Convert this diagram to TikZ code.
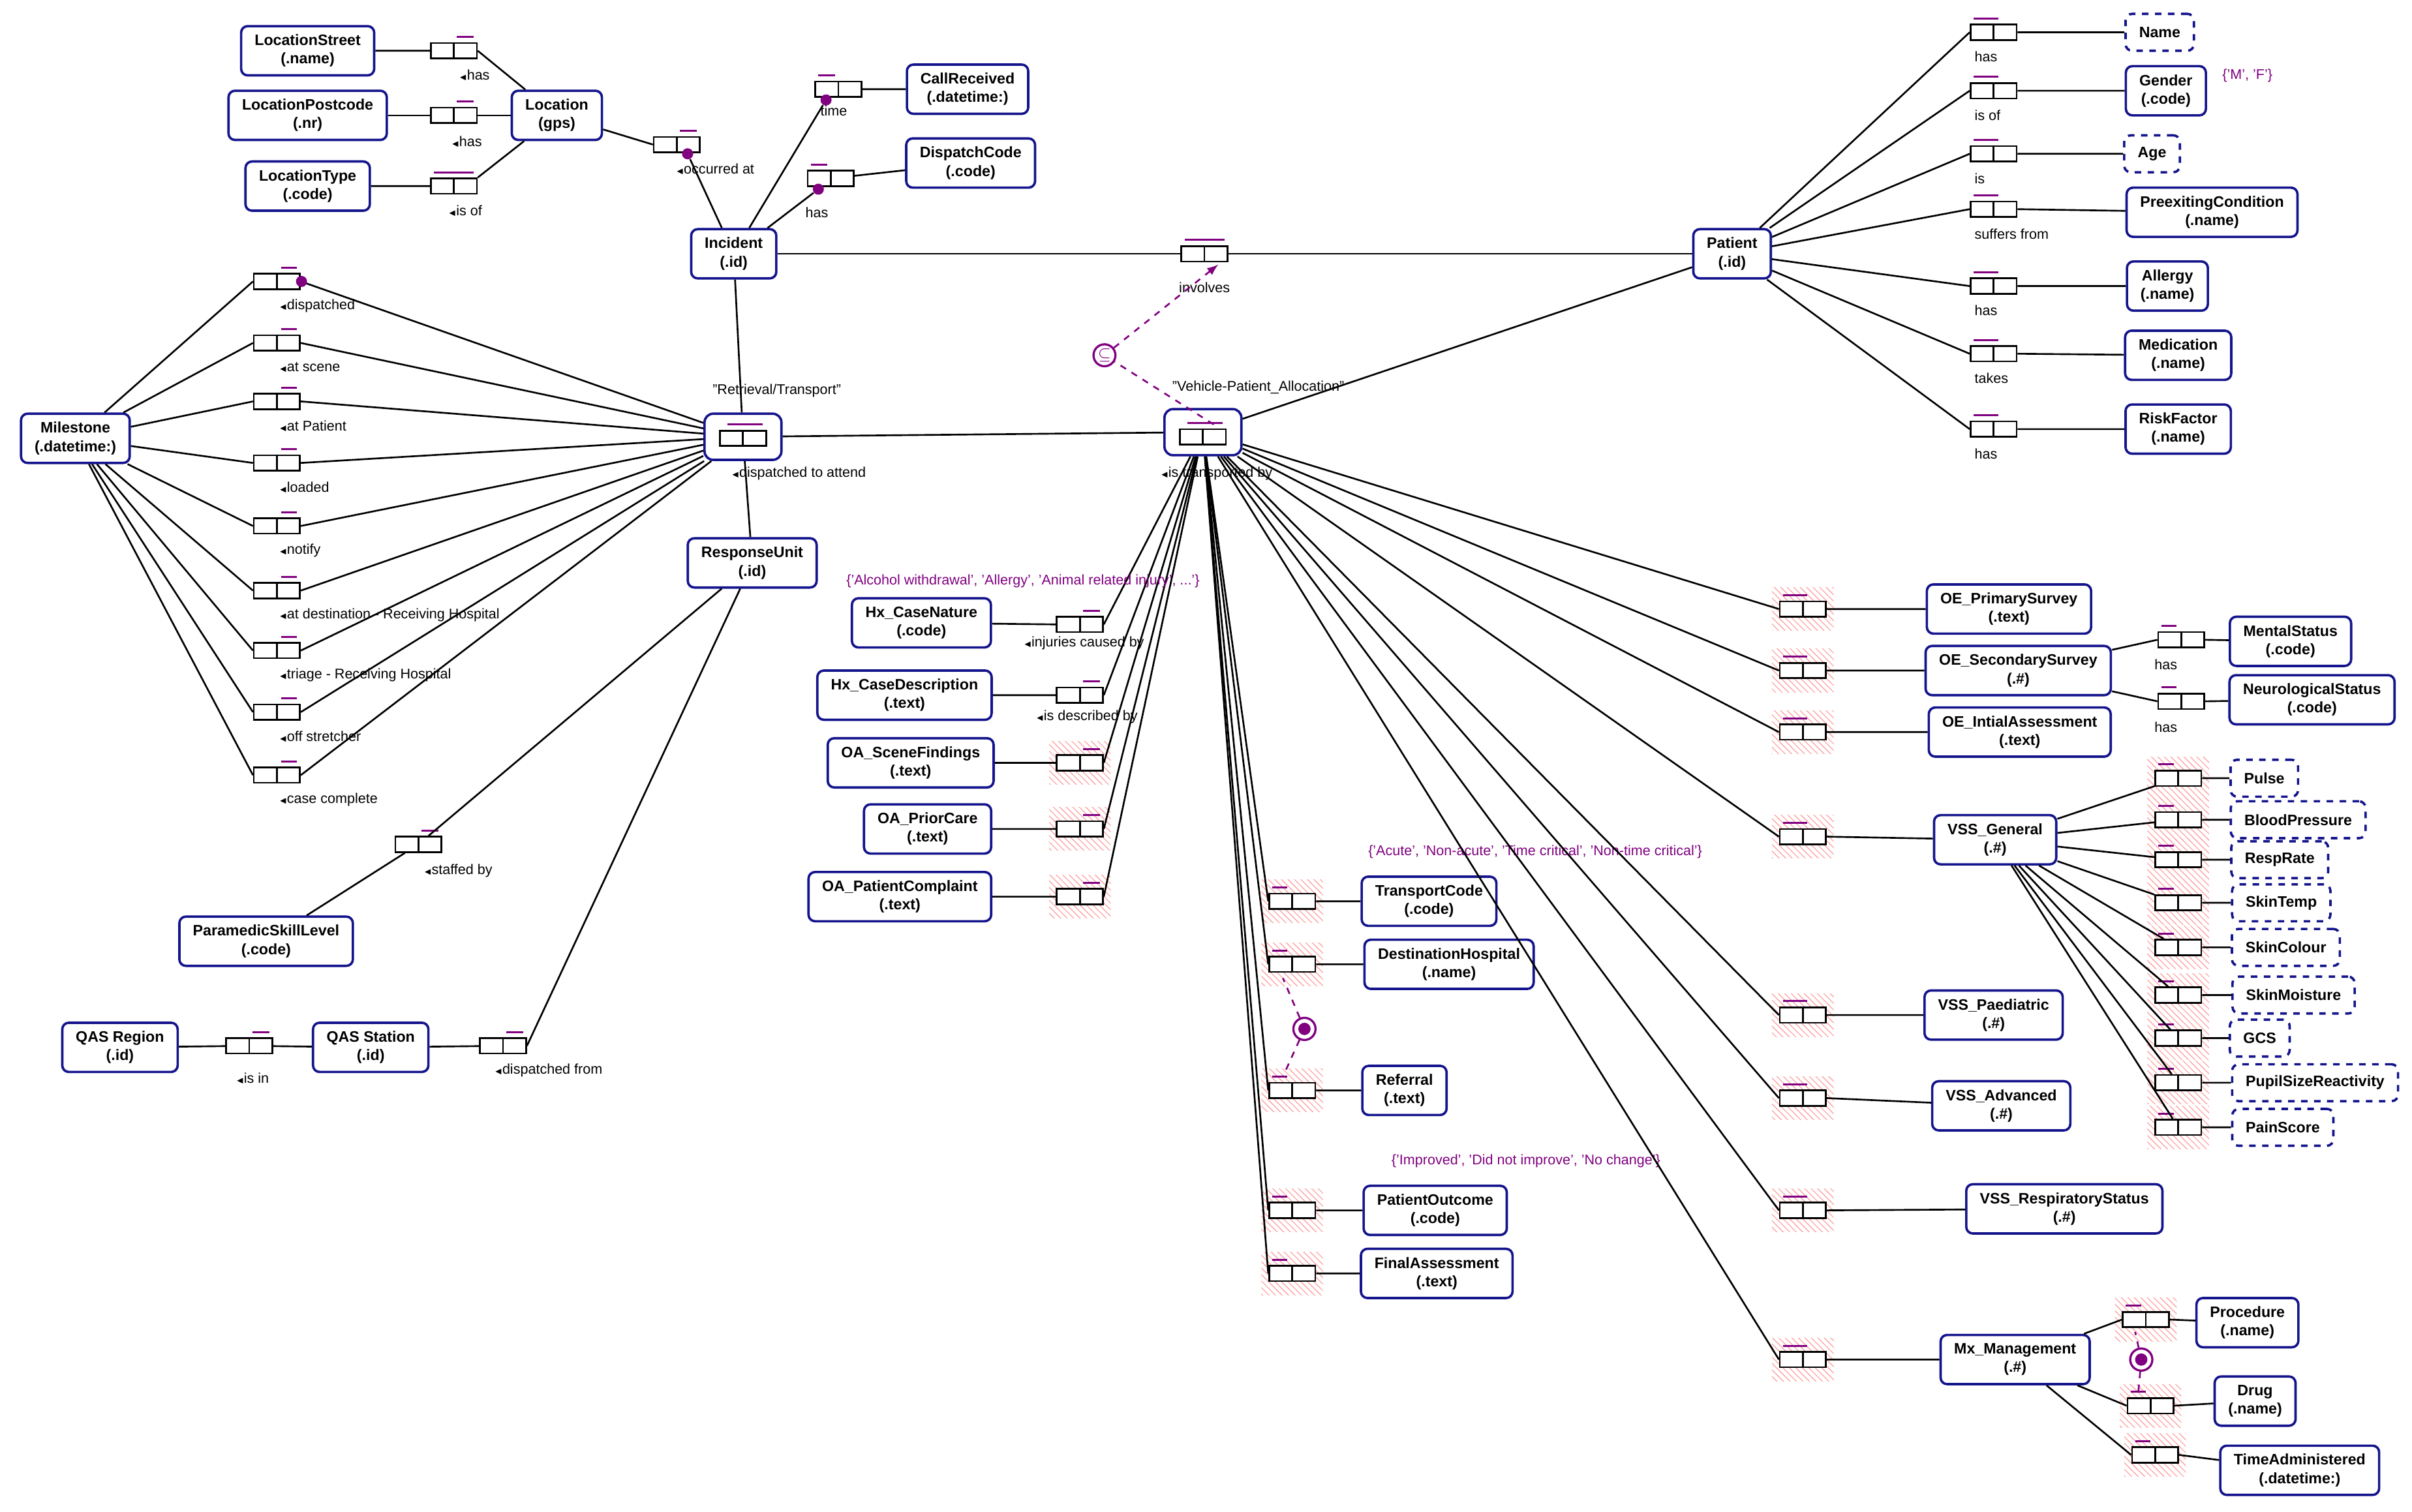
\documentclass[tikz,border=0pt]{standalone}
\usepackage{fontspec}
\setmainfont{Liberation Sans}
\usepackage{amssymb}
\usetikzlibrary{patterns}
\definecolor{ormpurple}{RGB}{128,0,128}
\definecolor{ormblue}{RGB}{20,20,140}
\newcommand{\rl}{\scalebox{0.6}{$\blacktriangleleft$}}
% fact type: name, x, y, bar from, bar to
\newcommand{\fact}[5]{%
  \node[role] (#1) at (#2,#3) {};
  \draw[thick] (#1.north) -- (#1.south);
  \draw[uniq] (#2+#4,#3-9) -- (#2+#5,#3-9);}
\newcommand{\hfact}[5]{%
  \fill[hatch] (#2-20,#3-14) rectangle (#2+20,#3+14);
  \fact{#1}{#2}{#3}{#4}{#5}}
\begin{document}
\begin{tikzpicture}[x=0.25mm,y=-0.25mm,
    entity/.style={draw=ormblue, line width=1.1pt, rounded corners=3pt, fill=white,
      align=center, font=\fontsize{7}{8.5}\selectfont\bfseries, inner xsep=2.2mm,
      minimum height=8mm},
    value/.style={entity, dashed, minimum height=6mm},
    role/.style={draw, thick, fill=white, minimum width=7.5mm, minimum height=2.5mm, inner sep=0},
    uniq/.style={ormpurple, line width=0.9pt},
    hatch/.style={pattern=north west lines, pattern color=red!35},
    objbox/.style={draw=ormblue, line width=1.1pt, rounded corners=4pt, minimum width=12.5mm, minimum height=7.5mm},
    lab/.style={font=\fontsize{6.5}{7}\selectfont, inner sep=1pt},
    cons/.style={lab, text=ormpurple},
    dot/.style={circle, fill=ormpurple, minimum size=1.8mm, inner sep=0},
    ring/.style={circle, draw=ormpurple, line width=1pt, inner sep=0.5pt, text=ormpurple},
    link/.style={thick},
    dlink/.style={ormpurple, thick, dashed}
  ]
  \useasboundingbox (0,0) rectangle (1568,983);

  % location part
  \node[entity] (lstreet) at (200,33) {LocationStreet\\(.name)};
  \node[entity] (lpost) at (200,75) {LocationPostcode\\(.nr)};
  \node[entity] (ltype) at (200,121) {LocationType\\(.code)};
  \node[entity] (loc) at (362,75) {Location\\(gps)};
  \fact{fstreet}{295}{33}{2}{13}
  \fact{fpost}{295}{75}{2}{13}
  \fact{ftype}{295}{121}{-13}{13}
  \node[lab, anchor=west] (lstreetl) at (297,49) {\rl has};
  \node[lab, anchor=west] (lpostl) at (292,92) {\rl has};
  \node[lab, anchor=west] (ltypel) at (290,137) {\rl is of};
  \draw[link] (lstreet) -- (fstreet) (fstreet.east) -- (loc);
  \draw[link] (lpost) -- (fpost) -- (loc);
  \draw[link] (ltype) -- (ftype) (ftype.north east) -- (loc);

  % incident part
  \node[entity] (inc) at (477,165) {Incident\\(.id)};
  \node[entity] (callrec) at (629,58) {CallReceived\\(.datetime:)};
  \node[entity] (dispcode) at (631,106) {DispatchCode\\(.code)};
  \fact{foccur}{440}{94}{2}{13}
  \node[dot] (doccur) at (447,100) {};
  \node[lab, anchor=west] (loccur) at (438,110) {\rl occurred at};
  \draw[link] (loc) -- (foccur.west) (doccur) -- (inc);
  \fact{ftime}{545}{58}{-13}{-2}
  \node[dot] (dtime) at (537,65) {};
  \node[lab] (ltime) at (542,72) {time};
  \draw[link] (ftime) -- (callrec) (dtime) -- (inc);
  \fact{fdisp}{540}{116}{-13}{-2}
  \node[dot] (ddisp) at (532,123) {};
  \node[lab] (ldisp) at (531,138) {has};
  \draw[link] (fdisp) -- (dispcode) (ddisp) -- (inc);

  % patient
  \node[entity] (pat) at (1126,165) {Patient\\(.id)};
  \fact{finv}{783}{165}{-13}{13}
  \node[lab] (linv) at (783,187) {involves};
  \draw[link] (inc) -- (finv) -- (pat);

  % objectified facts
  \node[objbox] (rt) at (483,284) {};
  \fact{rtr}{483}{285}{-10}{13}
  \node[lab] (rtl) at (505,254) {"Retrieval/Transport"};
  \node[lab, anchor=west] (rtrl) at (474,308) {\rl dispatched to attend};
  \node[objbox] (veh) at (782,281) {};
  \fact{vehr}{782}{284}{-10}{13}
  \node[lab] (vehl) at (818,252) {"Vehicle-Patient\_Allocation"};
  \node[lab, anchor=west] (vehrl) at (753,308) {\rl is transported by};
  \draw[link] (inc) -- (rt);
  \draw[link] (rt) -- (veh);
  \draw[link] (veh) -- (pat);
  \node[ring, font=\fontsize{7}{7}\selectfont] (subs) at (718,231) {$\subseteq$};
  \draw[dlink] (789,276) -- (subs);
  \draw[dlink, ->, >=latex] (subs) -- (792,172);

  % milestones
  \node[entity] (mile) at (49,285) {Milestone\\(.datetime:)};
  \foreach \n/\y/\lab in {1/183/dispatched, 2/223/at scene, 3/261/at Patient, 4/301/loaded,
      5/342/notify, 6/384/at destination - Receiving Hospital, 7/423/triage - Receiving Hospital,
      8/463/off stretcher, 9/504/case complete} {
    \fact{m\n}{180}{\y}{3}{13}
    \node[lab, anchor=west] (ml\n) at (180,\y+16) {\rl \lab};
    \draw[link] (mile) -- (m\n.west) (m\n.east) -- (rt);
  }
  \node[dot] (dm1) at (196,183) {};

  % response unit
  \node[entity] (ru) at (489,366) {ResponseUnit\\(.id)};
  \node[entity] (psl) at (173,612) {ParamedicSkillLevel\\(.code)};
  \node[entity] (qreg) at (78,681) {QAS Region\\(.id)};
  \node[entity] (qst) at (241,681) {QAS Station\\(.id)};
  \draw[link] (rt) -- (ru);
  \fact{fstaff}{272}{549}{2}{13}
  \node[lab, anchor=west] (lstaff) at (274,566) {\rl staffed by};
  \draw[link] (ru) -- (fstaff) -- (psl);
  \fact{fisin}{162}{680}{2}{13}
  \node[lab, anchor=west] (lisin) at (152,701) {\rl is in};
  \draw[link] (qreg) -- (fisin) -- (qst);
  \fact{fdfrom}{327}{680}{2}{13}
  \node[lab, anchor=west] (ldfrom) at (320,696) {\rl dispatched from};
  \draw[link] (qst) -- (fdfrom) (fdfrom.east) -- (ru);

  % history / assessment
  \node[entity] (hxn) at (599,405) {Hx\_CaseNature\\(.code)};
  \node[entity] (hxd) at (588,452) {Hx\_CaseDescription\\(.text)};
  \node[entity] (oas) at (592,496) {OA\_SceneFindings\\(.text)};
  \node[entity] (oap) at (603,539) {OA\_PriorCare\\(.text)};
  \node[entity] (oac) at (585,583) {OA\_PatientComplaint\\(.text)};
  \fact{h1}{702}{406}{2}{13}
  \fact{h2}{702}{452}{2}{13}
  \hfact{h3}{702}{496}{2}{13}
  \hfact{h4}{702}{539}{2}{13}
  \hfact{h5}{702}{583}{2}{13}
  \foreach \n/\e in {1/hxn, 2/hxd, 3/oas, 4/oap, 5/oac}
    \draw[link] (\e) -- (h\n.west) (h\n.east) -- (veh);
  \node[cons] (hxc) at (665,378) {\{'Alcohol withdrawal', 'Allergy', 'Animal related injury', ...'\}};
  \node[lab, anchor=west] (lh1) at (664,418) {\rl injuries caused by};
  \node[lab, anchor=west] (lh2) at (672,466) {\rl is described by};

  % transport outcome
  \node[entity] (tc) at (929,586) {TransportCode\\(.code)};
  \node[entity] (dh) at (942,627) {DestinationHospital\\(.name)};
  \node[entity] (ref) at (913,709) {Referral\\(.text)};
  \node[entity] (po) at (933,787) {PatientOutcome\\(.code)};
  \node[entity] (fa) at (934,828) {FinalAssessment\\(.text)};
  \foreach \n/\y/\e in {1/586/tc, 2/627/dh, 3/709/ref, 4/787/po, 5/828/fa} {
    \hfact{t\n}{840}{\y}{-13}{-3}
    \draw[link] (veh) -- (t\n.west) (t\n.east) -- (\e);
  }
  \node[cons] (tcc) at (998,554) {\{'Acute', 'Non-acute', 'Time critical', 'Non-time critical'\}};
  \node[cons] (poc) at (992,755) {\{'Improved', 'Did not improve', 'No change'\}};
  \node[ring, minimum size=3.6mm] (tx) at (848,669) {};
  \node[dot, minimum size=2mm] (txd) at (848,669) {};
  \draw[dlink] (tx) -- (834,636) (tx) -- (834,700);

  % patient facts
  \node[value] (pname) at (1404,21) {Name};
  \node[entity] (pgen) at (1408,59) {Gender\\(.code)};
  \node[value] (page) at (1399,100) {Age};
  \node[entity] (ppre) at (1438,138) {PreexitingCondition\\(.name)};
  \node[entity] (pall) at (1409,186) {Allergy\\(.name)};
  \node[entity] (pmed) at (1416,231) {Medication\\(.name)};
  \node[entity] (prisk) at (1416,279) {RiskFactor\\(.name)};
  \foreach \n/\y/\e/\lab in {1/21/pname/has, 2/59/pgen/is of, 3/100/page/is, 4/136/ppre/suffers from,
      5/186/pall/has, 6/230/pmed/takes, 7/279/prisk/has} {
    \fact{p\n}{1296}{\y}{-13}{3}
    \node[lab, anchor=west] (pl\n) at (1282,\y+16) {\lab};
    \draw[link] (pat) -- (p\n.west) (p\n.east) -- (\e);
  }
  \node[cons] (pgc) at (1461,49) {\{'M', 'F'\}};

  % observations
  \node[entity] (oe1) at (1306,396) {OE\_PrimarySurvey\\(.text)};
  \node[entity] (oe2) at (1312,436) {OE\_SecondarySurvey\\(.\#)};
  \node[entity] (oe3) at (1313,476) {OE\_IntialAssessment\\(.text)};
  \node[entity] (vg) at (1297,546) {VSS\_General\\(.\#)};
  \node[entity] (vp) at (1296,660) {VSS\_Paediatric\\(.\#)};
  \node[entity] (va) at (1301,719) {VSS\_Advanced\\(.\#)};
  \node[entity] (vr) at (1342,786) {VSS\_RespiratoryStatus\\(.\#)};
  \node[entity] (mx) at (1310,884) {Mx\_Management\\(.\#)};
  \foreach \n/\y/\e in {1/396/oe1, 2/436/oe2, 3/476/oe3, 4/544/vg, 5/660/vp, 6/714/va, 7/787/vr, 8/884/mx} {
    \hfact{o\n}{1172}{\y}{-13}{3}
    \draw[link] (veh) -- (o\n.west) (o\n.east) -- (\e);
  }

  % secondary survey
  \node[entity] (ms) at (1489,417) {MentalStatus\\(.code)};
  \node[entity] (ns) at (1503,455) {NeurologicalStatus\\(.code)};
  \fact{s1}{1418}{416}{-13}{-3}
  \fact{s2}{1418}{456}{-13}{-3}
  \node[lab] (sl1) at (1408,432) {has};
  \node[lab] (sl2) at (1408,473) {has};
  \draw[link] (oe2) -- (s1.west) (s1.east) -- (ms);
  \draw[link] (oe2) -- (s2.west) (s2.east) -- (ns);

  % vital signs
  \foreach \n/\y/\x/\lab in {1/506/1472/Pulse, 2/533/1494/BloodPressure, 3/559/1482/RespRate,
      4/587/1483/SkinTemp, 5/616/1486/SkinColour, 6/647/1491/SkinMoisture, 7/675/1469/GCS,
      8/704/1505/PupilSizeReactivity, 9/733/1484/PainScore} {
    \hfact{g\n}{1416}{\y}{-13}{-3}
    \node[value] (gv\n) at (\x,\y) {\lab};
    \draw[link] (vg) -- (g\n) (g\n.east) -- (gv\n);
  }

  % management
  \node[entity] (proc) at (1461,860) {Procedure\\(.name)};
  \node[entity] (drug) at (1466,911) {Drug\\(.name)};
  \node[entity] (tadm) at (1495,956) {TimeAdministered\\(.datetime:)};
  \foreach \n/\x/\y/\e in {1/1395/858/proc, 2/1398/914/drug, 3/1401/946/tadm} {
    \hfact{x\n}{\x}{\y}{-13}{-3}
    \draw[link] (mx) -- (x\n.west) (x\n.east) -- (\e);
  }
  \node[ring, minimum size=3.6mm] (mxr) at (1392,884) {};
  \node[dot, minimum size=2mm] (mxd) at (1392,884) {};
  \draw[dlink] (mxr) -- (1388,866) (mxr) -- (1390,906);
\end{tikzpicture}
\end{document}
